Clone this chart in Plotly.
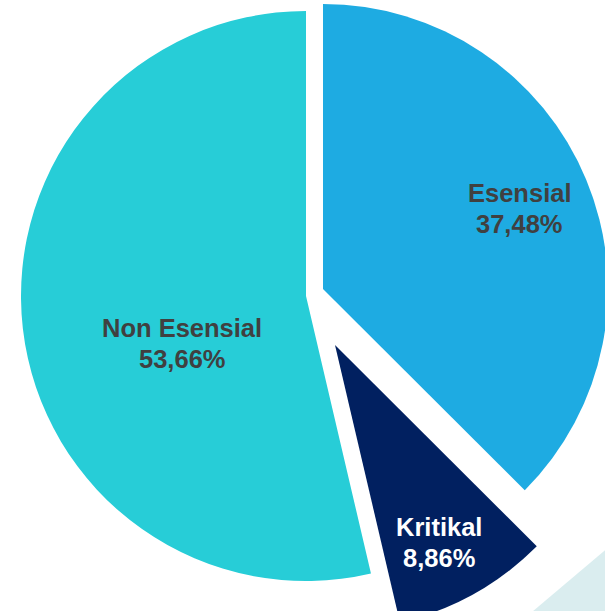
import math
import plotly.graph_objects as go

# ---- data ----
labels = ["Esensial", "Kritikal", "Non Esensial"]
values = [37.48, 8.86, 53.66]

# ---- styles ----
colors = ["#1EABE2", "#012060", "#27CDD7"]
text_colors = ["#404040", "#FFFFFF", "#404040"]
FONT = "Liberation Sans, Arial, sans-serif"
FONT_SIZE = 25.5
LINE_GAP = 31  # px between the two label lines

# ---- layout geometry (pixels in the figure) ----
W, H = 700, 700
R = 285
# apex of each exploded slice
apex = {"Esensial": (323, 289), "Kritikal": (335, 345), "Non Esensial": (306, 296)}
# label placement relative to the slice apex: fraction of radius, angle tweak (deg)
label_r_frac = {"Esensial": 0.743, "Kritikal": 0.784, "Non Esensial": 0.466}
label_dang = {"Esensial": 0.3, "Kritikal": 1.5, "Non Esensial": -14.4}

fig = go.Figure()

total = sum(values)
start = 0.0
annotations = []
for i, lab in enumerate(labels):
    cx, cy = apex[lab]
    cols = ["rgba(0,0,0,0)"] * len(labels)
    cols[i] = colors[i]
    fig.add_trace(go.Pie(
        labels=labels,
        values=values,
        sort=False,
        direction="clockwise",
        rotation=0,
        marker=dict(colors=cols, line=dict(width=0)),
        textinfo="none",
        domain=dict(x=[(cx - R) / W, (cx + R) / W], y=[1 - (cy + R) / H, 1 - (cy - R) / H]),
        showlegend=False,
        hoverinfo="label+percent",
    ))
    # label position from slice mid-angle
    span = values[i] / total * 360.0
    mid = start + span / 2 + label_dang[lab]
    start += span
    rr = label_r_frac[lab] * R
    lx = cx + rr * math.sin(math.radians(mid))
    ly = cy - rr * math.cos(math.radians(mid))
    pct = f"{values[i] / total * 100:.2f}%".replace(".", ",")
    for txt, dy in ((lab, -LINE_GAP / 2), (pct, LINE_GAP / 2)):
        annotations.append(dict(
            x=lx / W, y=1 - (ly + dy) / H, xref="paper", yref="paper",
            text=f"<b>{txt}</b>", showarrow=False,
            xanchor="center", yanchor="middle",
            font=dict(family=FONT, size=FONT_SIZE, color=text_colors[i]),
        ))

fig.update_layout(
    width=W, height=H,
    margin=dict(l=0, r=0, t=0, b=0),
    paper_bgcolor="white",
    plot_bgcolor="white",
    separators=",.",
    annotations=annotations,
    shapes=[dict(
        type="path", xref="paper", yref="paper", layer="below",
        path="M {:.4f} {:.4f} L {:.4f} {:.4f} L {:.4f} {:.4f} Z".format(
            428 / W, 1 - 700 / H, 1.0, 1 - 470 / H, 1.0, 0.0),
        fillcolor="#DAEDEF", line=dict(width=0),
    )],
)

fig.write_html(
    "out.html",
    post_script=(
        "document.body.style.margin='0';"
        "document.body.style.overflow='hidden';"
        "document.documentElement.style.overflow='hidden';"
    ),
)
